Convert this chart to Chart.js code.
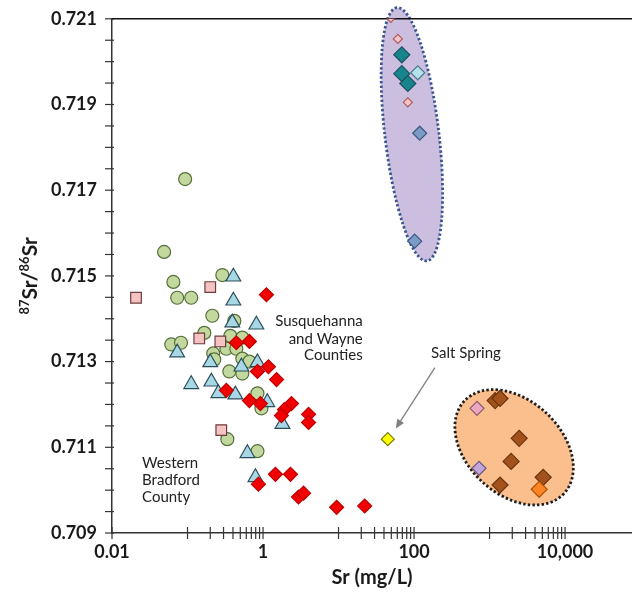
<!DOCTYPE html>
<html><head><meta charset="utf-8">
<script src="https://cdn.jsdelivr.net/npm/chart.js@4.4.0/dist/chart.umd.min.js"></script>
<style>html,body{margin:0;padding:0;background:#fff;}canvas{display:block;}</style>
</head><body>
<canvas id="c" width="632" height="593"></canvas>
<script>
// ---------- data (Sr in mg/L, 87Sr/86Sr) ----------
const circleSr    = [0.093,0.049,0.065,0.073,0.112,0.289,0.213,0.417,0.167,0.061,0.082,0.369,0.532,0.327,0.443,0.219,0.226,0.532,0.660,0.358,0.532,0.843,0.953,0.337,0.843];
const circleRatio = [0.71726,0.71556,0.71486,0.71449,0.71449,0.71502,0.71407,0.71395,0.71367,0.71340,0.71344,0.71360,0.71356,0.71330,0.71330,0.71319,0.71305,0.71307,0.71300,0.71277,0.71272,0.71226,0.71191,0.71119,0.71091];

const triangleSr    = [0.405,0.405,0.392,0.817,0.073,0.200,0.517,0.843,0.112,0.207,0.256,0.430,1.14,1.81,0.621,0.793];
const triangleRatio = [0.71498,0.71442,0.71391,0.71386,0.71321,0.71298,0.71288,0.71298,0.71247,0.71253,0.71226,0.71223,0.71205,0.71154,0.71086,0.71030];

const squareSr    = [0.0208,0.200,0.143,0.272,0.280];
const squareRatio = [0.71449,0.71474,0.71354,0.71347,0.71140];

const redSr    = [1.11,0.443,0.660,0.843,1.18,1.51,0.327,0.660,0.923,2.38,1.92,1.75,4.01,4.01,0.869,1.46,2.31,2.95,3.44,9.44,22.2];
const redRatio = [0.71456,0.71344,0.71347,0.71277,0.71288,0.71258,0.71233,0.71209,0.71202,0.71202,0.71188,0.71174,0.71177,0.71158,0.71014,0.71037,0.71037,0.70984,0.70993,0.70960,0.70963];

const saltSr    = [44.9];
const saltRatio = [0.71119];

const smallPinkSr    = [49.2,61.0,82.7];
const smallPinkRatio = [0.72102,0.72053,0.71905];
const tealSr    = [68.9,68.9,82.7];
const tealRatio = [0.72016,0.71972,0.71949];
const cyanSr    = [112];
const cyanRatio = [0.71974];
const steelSr    = [119,102];
const steelRatio = [0.71833,0.71581];

const brownSr    = [1184,1378,2466,1931,1378,5134];
const brownRatio = [0.71209,0.71214,0.71121,0.71067,0.71012,0.71030];
const rosySr    = [682];
const rosyRatio = [0.71191];
const lilacSr    = [726];
const lilacRatio = [0.71051];
const orangeSr    = [4545];
const orangeRatio = [0.71002];

// ellipse major-axis end points (data space)
const upperEllipseSr    = [59.2,148];
const upperEllipseRatio = [0.72126,0.71535];
const lowerEllipseSr    = [463,9660];
const lowerEllipseRatio = [0.71208,0.70992];

// annotations (data space anchors)
const saltLabelAt   = [487,0.71319];
const saltArrowSr   = [189,57.3];
const saltArrowRatio= [0.71286,0.71144];
const susqLines  = ['Susquehanna','and Wayne','Counties'];
const susqAt     = [20.9,[0.71395,0.71353,0.71314]];
const westLines  = ['Western','Bradford','County'];
const westAt     = [0.025,[0.71063,0.71023,0.70984]];

// axes
const xMajorTicks  = [0.01,1,100,10000];
const xMajorLabels = ['0.01','1','100','10,000'];
const xMinorTicks  = [0.1,0.2,0.3,0.4,0.5,0.6,0.7,0.8,0.9,10,20,30,40,50,60,70,80,90,1000,2000,3000,4000,5000,6000,7000,8000,9000];
const yTickLabels  = ['0.709','0.711','0.713','0.715','0.717','0.719','0.721'];

// ---------- chart ----------
const pts = (xs, ys) => xs.map((v, i) => ({x: v, y: ys[i]}));
const FONT = 'Lato, "Liberation Sans", sans-serif';

function ds(label, xs, ys, style, bg, border, r, order, bw) {
  return {label, data: pts(xs, ys), pointStyle: style, backgroundColor: bg, borderColor: border,
          pointRadius: r, pointHoverRadius: r, pointBorderWidth: bw || 1.2, borderWidth: bw || 1.2, order};
}

function drawEllipse(ctx, xs, ys, srs, ratios, minor, fill, stroke) {
  const x1 = xs.getPixelForValue(srs[0]), y1 = ys.getPixelForValue(ratios[0]);
  const x2 = xs.getPixelForValue(srs[1]), y2 = ys.getPixelForValue(ratios[1]);
  const cx = (x1 + x2) / 2, cy = (y1 + y2) / 2;
  const a = Math.hypot(x2 - x1, y2 - y1) / 2, ang = Math.atan2(y2 - y1, x2 - x1);
  ctx.save();
  ctx.beginPath();
  ctx.ellipse(cx, cy, a, minor, ang, 0, Math.PI * 2);
  ctx.fillStyle = fill; ctx.fill();
  ctx.setLineDash([2.4, 2.2]); ctx.lineWidth = 2.8; ctx.strokeStyle = stroke; ctx.stroke();
  ctx.restore();
}

const overlay = {
  id: 'overlay',
  beforeDraw(chart) {
    const {ctx, scales: {x, y}} = chart;
    drawEllipse(ctx, x, y, upperEllipseSr, upperEllipseRatio, 27, '#cbbedf', '#3a5590');
    drawEllipse(ctx, x, y, lowerEllipseSr, lowerEllipseRatio, 47, '#fbbf8e', '#1e1e1e');
  },
  beforeDatasetsDraw(chart) {
    const {ctx, chartArea: ca, scales: {x, y}} = chart;
    ctx.save();
    ctx.strokeStyle = '#333'; ctx.lineWidth = 1.2;
    x.ticks.forEach(t => {
      const px = x.getPixelForValue(t.value);
      ctx.beginPath(); ctx.moveTo(px, ca.bottom - 6); ctx.lineTo(px, ca.bottom + 6); ctx.stroke();
    });
    y.ticks.forEach(t => {
      const py = y.getPixelForValue(t.value);
      ctx.beginPath(); ctx.moveTo(ca.left - 7, py); ctx.lineTo(ca.left + 2, py); ctx.stroke();
    });
    // top frame line
    ctx.strokeStyle = '#111'; ctx.lineWidth = 1.6;
    ctx.beginPath(); ctx.moveTo(ca.left, ca.top); ctx.lineTo(ca.right, ca.top); ctx.stroke();
    ctx.restore();
  },
  afterDatasetsDraw(chart) {
    const {ctx, chartArea: ca, scales: {x, y}} = chart;
    ctx.save();
    ctx.fillStyle = '#222';
    ctx.textBaseline = 'middle';
    ctx.font = '15px ' + FONT;
    ctx.textAlign = 'right';
    susqLines.forEach((s, i) => ctx.fillText(s, x.getPixelForValue(susqAt[0]), y.getPixelForValue(susqAt[1][i])));
    ctx.textAlign = 'left';
    westLines.forEach((s, i) => ctx.fillText(s, x.getPixelForValue(westAt[0]), y.getPixelForValue(westAt[1][i])));
    ctx.textAlign = 'center';
    ctx.fillText('Salt Spring', x.getPixelForValue(saltLabelAt[0]), y.getPixelForValue(saltLabelAt[1]));
    // arrow
    const ax1 = x.getPixelForValue(saltArrowSr[0]), ay1 = y.getPixelForValue(saltArrowRatio[0]);
    const ax2 = x.getPixelForValue(saltArrowSr[1]), ay2 = y.getPixelForValue(saltArrowRatio[1]);
    const ang = Math.atan2(ay2 - ay1, ax2 - ax1);
    ctx.strokeStyle = '#7f7f7f'; ctx.fillStyle = '#7f7f7f'; ctx.lineWidth = 1.3;
    ctx.beginPath(); ctx.moveTo(ax1, ay1); ctx.lineTo(ax2 - 6 * Math.cos(ang), ay2 - 6 * Math.sin(ang)); ctx.stroke();
    ctx.beginPath();
    ctx.moveTo(ax2, ay2);
    ctx.lineTo(ax2 - 9 * Math.cos(ang) + 4 * Math.sin(ang), ay2 - 9 * Math.sin(ang) - 4 * Math.cos(ang));
    ctx.lineTo(ax2 - 9 * Math.cos(ang) - 4 * Math.sin(ang), ay2 - 9 * Math.sin(ang) + 4 * Math.cos(ang));
    ctx.closePath(); ctx.fill();
    // y axis title with superscripts
    const parts = [['87', true], ['Sr/', false], ['86', true], ['Sr', false]];
    const big = 'bold 21px ' + FONT, small = 'bold 13px ' + FONT;
    let total = 0;
    parts.forEach(([t, sup]) => { ctx.font = sup ? small : big; total += ctx.measureText(t).width; });
    ctx.translate(30, (ca.top + ca.bottom) / 2);
    ctx.rotate(-Math.PI / 2);
    ctx.fillStyle = '#1a1a1a';
    ctx.textAlign = 'left'; ctx.textBaseline = 'alphabetic';
    let cx = -total / 2;
    parts.forEach(([t, sup]) => {
      ctx.font = sup ? small : big;
      ctx.fillText(t, cx, sup ? -1 : 7);
      cx += ctx.measureText(t).width;
    });
    ctx.restore();
  }
};

new Chart(document.getElementById('c'), {
  type: 'scatter',
  data: {
    datasets: [
      ds('circles', circleSr, circleRatio, 'circle', '#c3d89e', '#55703a', 6.5, 6),
      ds('squares', squareSr, squareRatio, 'rect', '#f6c3c3', '#6d3c3c', 7.5, 5),
      ds('triangles', triangleSr, triangleRatio, 'triangle', '#a8d8e6', '#2c4e5c', 8.5, 4),
      ds('red', redSr, redRatio, 'rectRot', '#f00000', '#c00000', 7, 3),
      ds('salt', saltSr, saltRatio, 'rectRot', '#ffff00', '#7a7a10', 6.5, 2),
      ds('smallPink', smallPinkSr, smallPinkRatio, 'rectRot', '#f6c6c6', '#b05a5a', 4.5, 2),
      ds('teal', tealSr, tealRatio, 'rectRot', '#17868c', '#1d4f5e', 8, 2),
      ds('cyan', cyanSr, cyanRatio, 'rectRot', '#b5e2ea', '#4d7c8a', 7, 1),
      ds('steel', steelSr, steelRatio, 'rectRot', '#7b9bc5', '#3a5a80', 7, 2),
      ds('brown', brownSr, brownRatio, 'rectRot', '#a4521c', '#6a3410', 8, 2),
      ds('rosy', rosySr, rosyRatio, 'rectRot', '#eba7bf', '#8a5a6a', 7, 2),
      ds('lilac', lilacSr, lilacRatio, 'rectRot', '#c3a5d9', '#6a5a8a', 7, 2),
      ds('orange', orangeSr, orangeRatio, 'rectRot', '#ff8424', '#b0520e', 8, 1)
    ]
  },
  options: {
    responsive: false,
    animation: false,
    devicePixelRatio: 1,
    layout: {autoPadding: false, padding: {top: 17, right: 0, left: 0, bottom: 0}},
    plugins: {legend: {display: false}, tooltip: {enabled: false}},
    scales: {
      x: {
        type: 'logarithmic', min: 0.01, max: 77000,
        afterBuildTicks(scale) {
          scale.ticks = [...xMajorTicks, ...xMinorTicks].sort((a, b) => a - b).map(v => ({value: v}));
        },
        afterFit(scale) { scale.height = 60; },
        ticks: {
          autoSkip: false, maxRotation: 0, minRotation: 0, padding: 2,
          color: '#1a1a1a', font: {family: FONT, size: 18, weight: 'bold'},
          callback: (v) => { const i = xMajorTicks.indexOf(v); return i >= 0 ? xMajorLabels[i] : ''; }
        },
        grid: {drawOnChartArea: false, drawTicks: true, tickLength: 6, color: 'rgba(0,0,0,0)'},
        border: {display: true, color: '#333', width: 1.5},
        title: {display: true, text: 'Sr (mg/L)', color: '#1a1a1a', font: {family: FONT, size: 20, weight: 'bold'}, padding: {top: 0, bottom: 3}}
      },
      y: {
        min: 0.709, max: 0.721,
        afterFit(scale) { scale.width = 112; },
        ticks: {
          stepSize: 0.0005, autoSkip: false, padding: 8,
          color: '#1a1a1a', font: {family: FONT, size: 18, weight: 'bold'},
          callback: (v) => {
            const k = Math.round(v * 10000);
            const hit = yTickLabels.find(s => Math.round(parseFloat(s) * 10000) === k);
            return hit || '';
          }
        },
        grid: {drawOnChartArea: false, drawTicks: true, tickLength: 7, color: 'rgba(0,0,0,0)'},
        border: {display: true, color: '#333', width: 1.5},
        title: {display: false}
      }
    }
  },
  plugins: [overlay]
});
</script>
</body></html>
